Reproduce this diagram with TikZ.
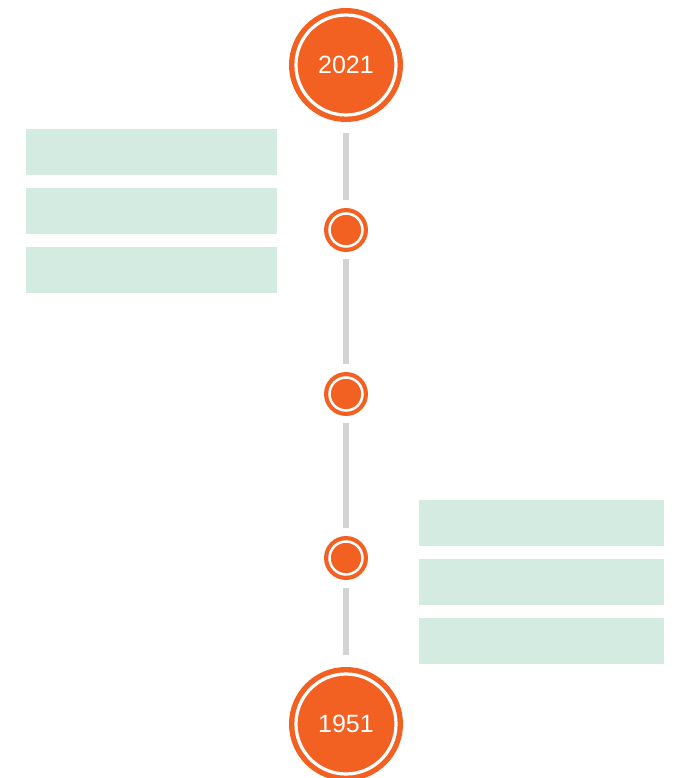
\documentclass[tikz,border=0pt]{standalone}
\usepackage{fontspec}
\setmainfont{Liberation Sans}
\definecolor{tlorange}{HTML}{F26122}
\definecolor{tlmint}{HTML}{D4EBE2}
\definecolor{tlgray}{HTML}{D3D3D3}
\begin{document}
\begin{tikzpicture}[x=1pt, y=-1pt,
  yeardot/.style={circle, fill=tlorange, minimum size=114pt, inner sep=0pt,
    text=white, font=\fontsize{25}{29}\selectfont,
    path picture={\draw[white, line width=3.2pt] (path picture bounding box.center) circle (50pt);}},
  eventdot/.style={circle, fill=tlorange, minimum size=44pt, inner sep=0pt,
    path picture={\draw[white, line width=2.5pt] (path picture bounding box.center) circle (16.5pt);}},
  stem/.style={draw=tlgray, line width=6.5pt}]
  \useasboundingbox (0,0) rectangle (674,778);

  % year markers and event markers along the stem
  \node[yeardot] (y2021) at (346,65) {2021};
  \node[eventdot] (e1) at (346,230) {};
  \node[eventdot] (e2) at (346,394) {};
  \node[eventdot] (e3) at (346,558) {};
  \node[yeardot] (y1951) at (346,724) {1951};

  % stem segments between markers
  \draw[stem, shorten <=11pt, shorten >=8pt] (y2021) -- (e1);
  \draw[stem, shorten <=7pt, shorten >=8pt] (e1) -- (e2);
  \draw[stem, shorten <=7pt, shorten >=8pt] (e2) -- (e3);
  \draw[stem, shorten <=8pt, shorten >=12pt] (e3) -- (y1951);

  % placeholder bars on the left
  \fill[tlmint] (26,129) rectangle (277,175);
  \fill[tlmint] (26,188) rectangle (277,234);
  \fill[tlmint] (26,247) rectangle (277,293);

  % placeholder bars on the right
  \fill[tlmint] (419,500) rectangle (664,546);
  \fill[tlmint] (419,559) rectangle (664,605);
  \fill[tlmint] (419,618) rectangle (664,664);
\end{tikzpicture}
\end{document}
